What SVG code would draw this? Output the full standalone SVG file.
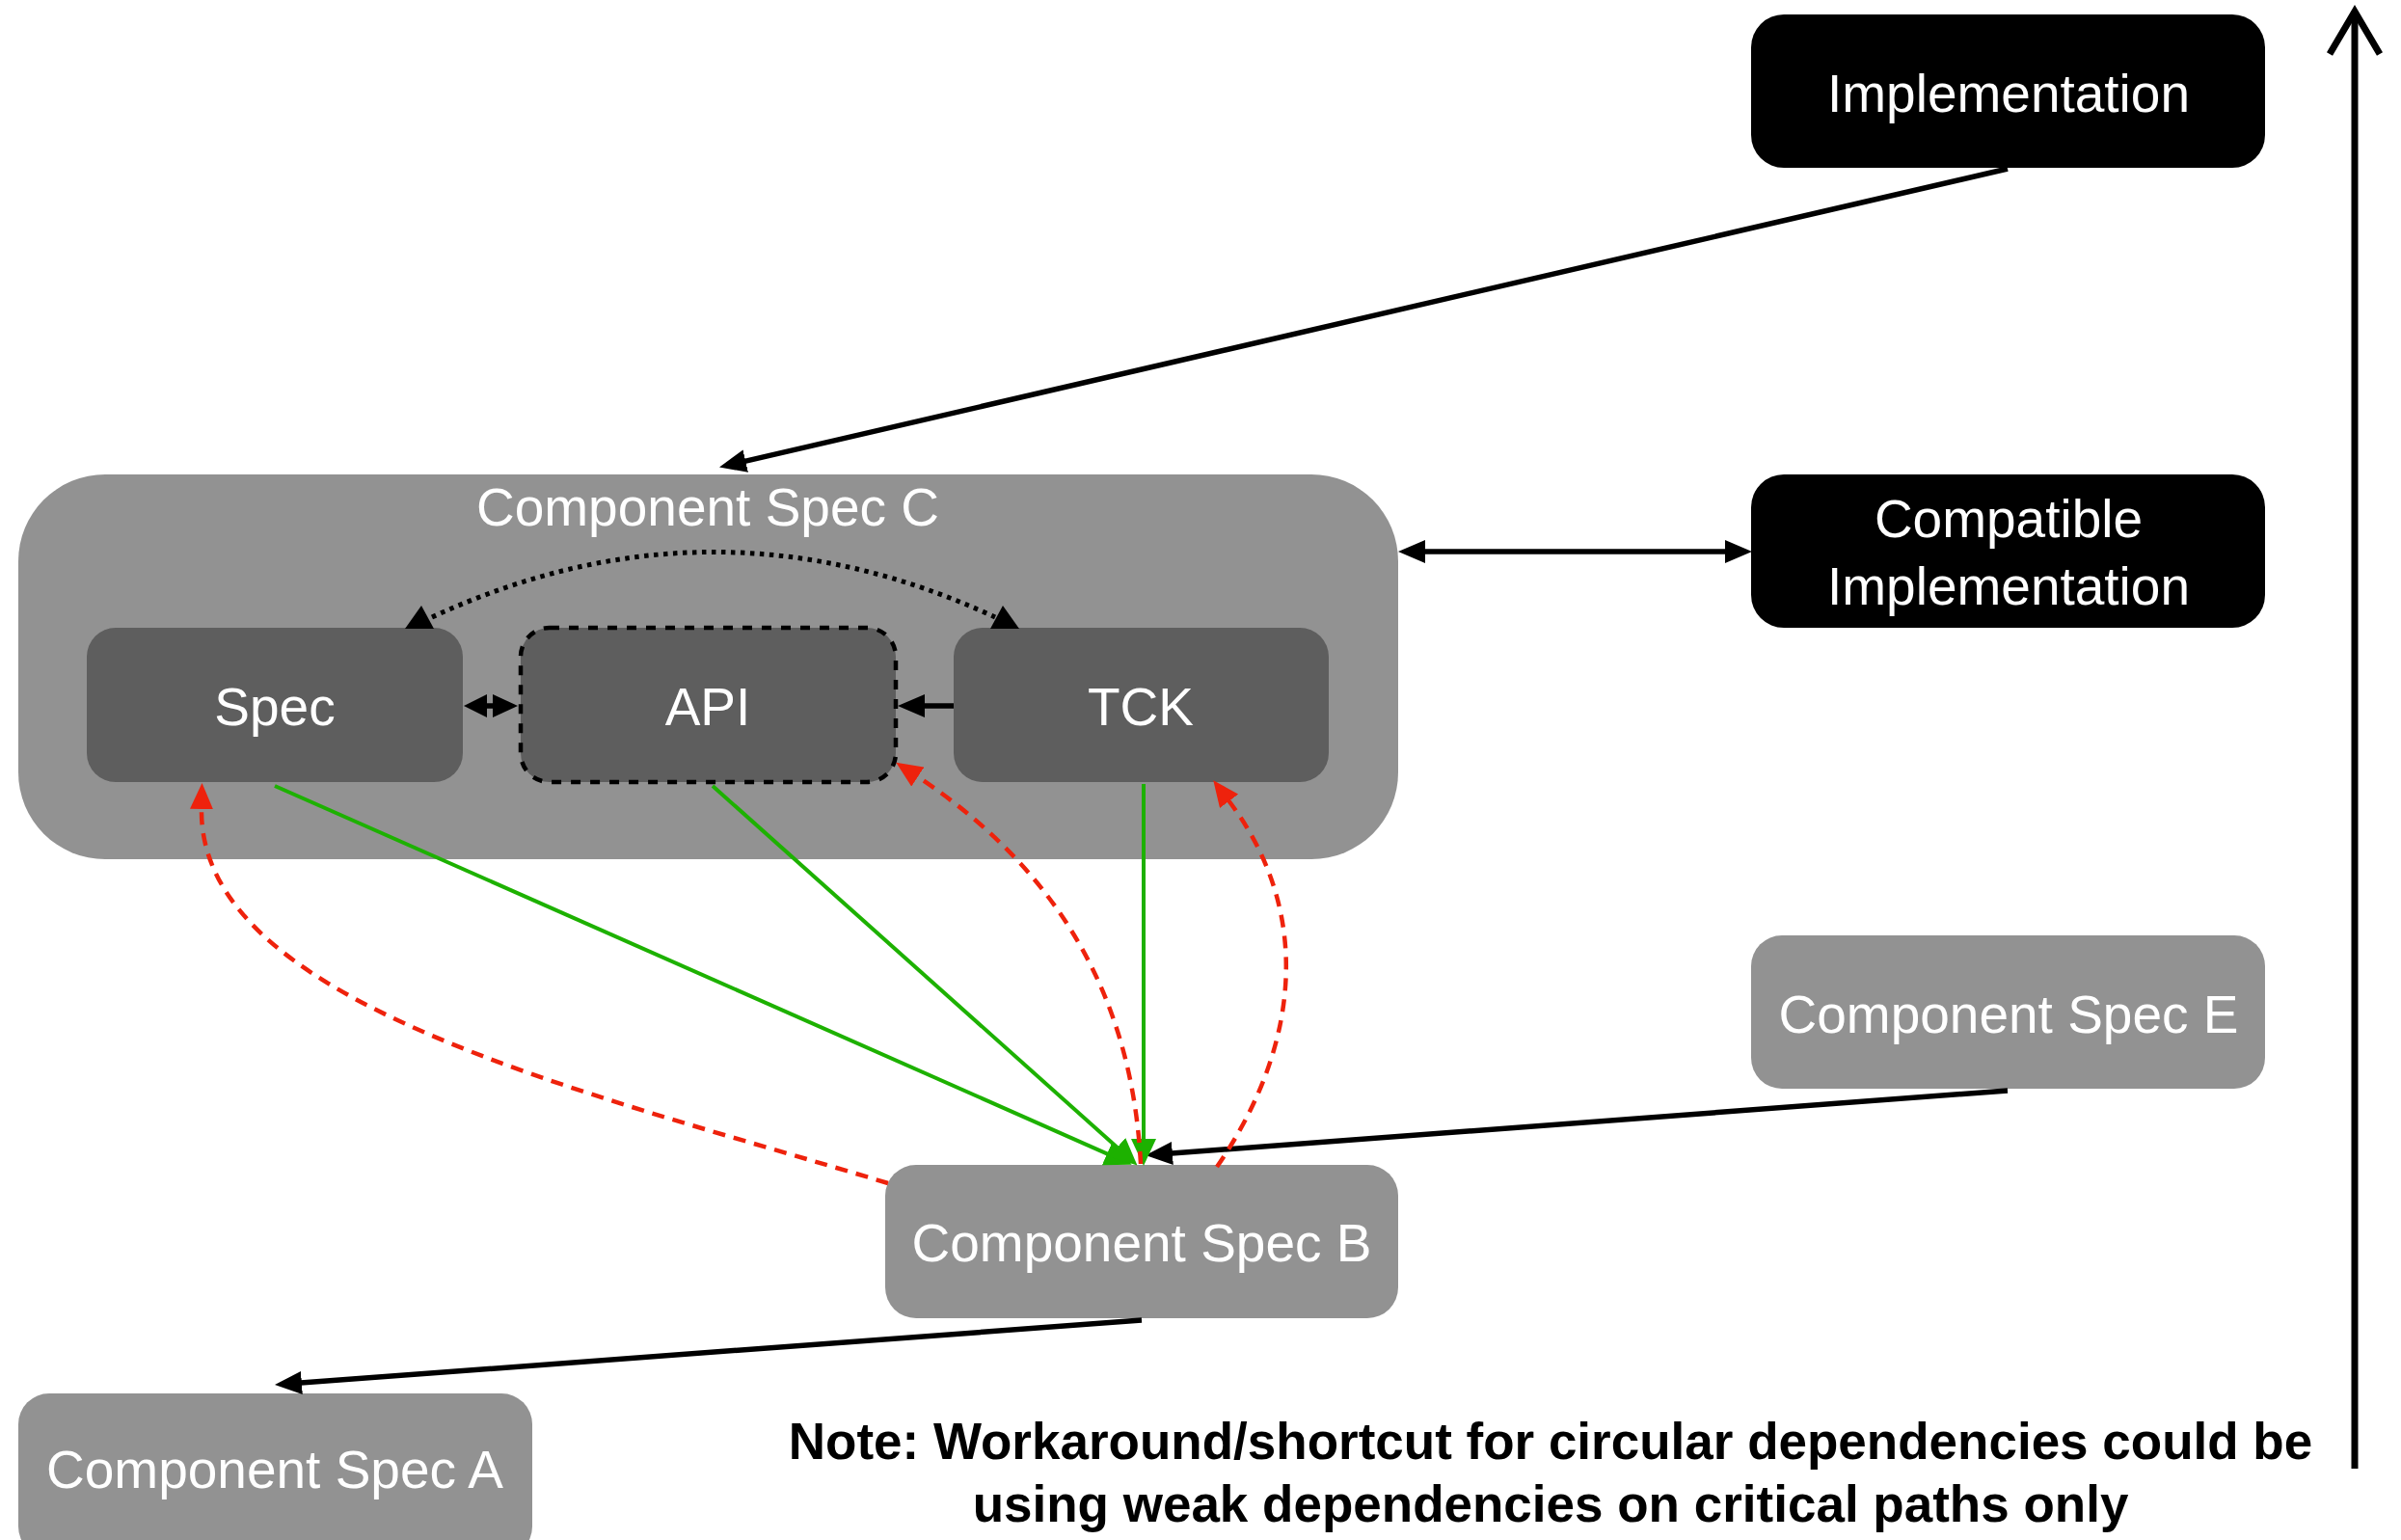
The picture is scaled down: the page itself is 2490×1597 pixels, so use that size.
<svg xmlns="http://www.w3.org/2000/svg" width="2490" height="1597" viewBox="0 0 2490 1597">
<defs>
<style>
.lbl{font-family:"Liberation Sans",Arial,sans-serif;font-size:55px;fill:#fff;text-anchor:middle}
.note{font-family:"Liberation Sans",Arial,sans-serif;font-size:53px;font-weight:bold;fill:#000;text-anchor:middle}
.blk{fill:#000}
.gry{fill:#929292}
.dk{fill:#5e5e5e}
.ln{fill:none;stroke:#000;stroke-width:5.5}
.gr{fill:none;stroke:#1db100;stroke-width:4}
.rd{fill:none;stroke:#ee220c;stroke-width:4.5;stroke-dasharray:13 9}
</style>
<marker id="ah" viewBox="0 0 28 24" refX="1" refY="12" markerWidth="28" markerHeight="24" markerUnits="userSpaceOnUse" orient="auto-start-reverse"><path d="M0,0 L28,12 L0,24 z" fill="#000"/></marker>
<marker id="ahg" viewBox="0 0 28 26" refX="1" refY="13" markerWidth="28" markerHeight="26" markerUnits="userSpaceOnUse" orient="auto"><path d="M0,0 L28,13 L0,26 z" fill="#1db100"/></marker>
<marker id="ahr" viewBox="0 0 27 24" refX="1" refY="12" markerWidth="27" markerHeight="24" markerUnits="userSpaceOnUse" orient="auto"><path d="M0,0 L27,12 L0,24 z" fill="#ee220c"/></marker>
</defs>
<rect width="2490" height="1597" fill="#fff"/>

<g id="component-spec-c">
<rect class="gry" x="19" y="492" width="1431" height="399" rx="90"/>
<text class="lbl" x="734" y="545">Component Spec C</text>
</g>
<g id="spec">
<rect class="dk" x="90" y="651" width="390" height="160" rx="30"/>
<text class="lbl" x="285" y="752">Spec</text>
</g>
<g id="api">
<rect class="dk" x="540" y="651" width="389" height="160" rx="30" stroke="#000" stroke-width="4.5" stroke-dasharray="10 10"/>
<text class="lbl" x="734" y="752">API</text>
</g>
<g id="tck">
<rect class="dk" x="989" y="651" width="389" height="160" rx="30"/>
<text class="lbl" x="1183" y="752">TCK</text>
</g>
<g id="implementation">
<rect class="blk" x="1816" y="15" width="533" height="159" rx="34"/>
<text class="lbl" x="2083" y="116">Implementation</text>
</g>
<g id="compatible-implementation">
<rect class="blk" x="1816" y="492" width="533" height="159" rx="34"/>
<text class="lbl" x="2083" y="557">Compatible</text>
<text class="lbl" x="2083" y="627">Implementation</text>
</g>
<g id="component-spec-e">
<rect class="gry" x="1816" y="970" width="533" height="159" rx="32"/>
<text class="lbl" x="2083" y="1071">Component Spec E</text>
</g>
<g id="component-spec-b">
<rect class="gry" x="918" y="1208" width="532" height="159" rx="32"/>
<text class="lbl" x="1184" y="1308">Component Spec B</text>
</g>
<g id="component-spec-a">
<rect class="gry" x="19" y="1445" width="533" height="170" rx="32"/>
<text class="lbl" x="285" y="1543">Component Spec A</text>
</g>

<g id="connectors">
<line class="ln" x1="2082" y1="175" x2="772.3" y2="478.4" stroke-width="4.5" marker-end="url(#ah)"/>
<line class="ln" x1="1477" y1="572" x2="1790" y2="572" stroke-width="4.5" marker-start="url(#ah)" marker-end="url(#ah)"/>
<line class="ln" x1="2082" y1="1131" x2="1214.9" y2="1196.1" marker-end="url(#ah)"/>
<line class="ln" x1="1184" y1="1369" x2="311.9" y2="1434.1" marker-end="url(#ah)"/>
<line class="ln" x1="989" y1="732" x2="958" y2="732" marker-end="url(#ah)"/>
<line class="ln" x1="503" y1="732" x2="513" y2="732" stroke-width="3"/>
<polygon class="blk" points="481,732 505,720 505,744"/>
<polygon class="blk" points="537,732 511,720 511,744"/>
<path d="M448,640 Q740,505 1032,640" fill="none" stroke="#000" stroke-width="5" stroke-dasharray="4.5 5.5"/>
<polygon class="blk" points="437,628 420,652 450,652"/>
<polygon class="blk" points="1040,628 1027,652 1057,652"/>
<line class="gr" x1="285" y1="815" x2="1149" y2="1196.8" stroke-width="4.5" marker-end="url(#ahg)"/>
<line class="gr" x1="739" y1="815" x2="1159.3" y2="1190.4" marker-end="url(#ahg)"/>
<line class="gr" x1="1186" y1="813" x2="1186" y2="1182" marker-end="url(#ahg)"/>
<path class="rd" d="M921,1227 C600,1130 205,1040 209,838" marker-end="url(#ahr)"/>
<path class="rd" d="M1183,1207 C1175,1050 1110,910 951,805" marker-end="url(#ahr)"/>
<path class="rd" d="M1262,1210 C1345,1090 1365,950 1274,830" marker-end="url(#ahr)"/>
<line x1="2442" y1="1523" x2="2442" y2="14" stroke="#000" stroke-width="7"/>
<polyline points="2416,56 2442,12 2468,56" fill="none" stroke="#000" stroke-width="7"/>
</g>

<g id="note">
<text class="note" x="1608" y="1513">Note: Workaround/shortcut for circular dependencies could be</text>
<text class="note" x="1608" y="1578">using weak dependencies on critical paths only</text>
</g>
</svg>
